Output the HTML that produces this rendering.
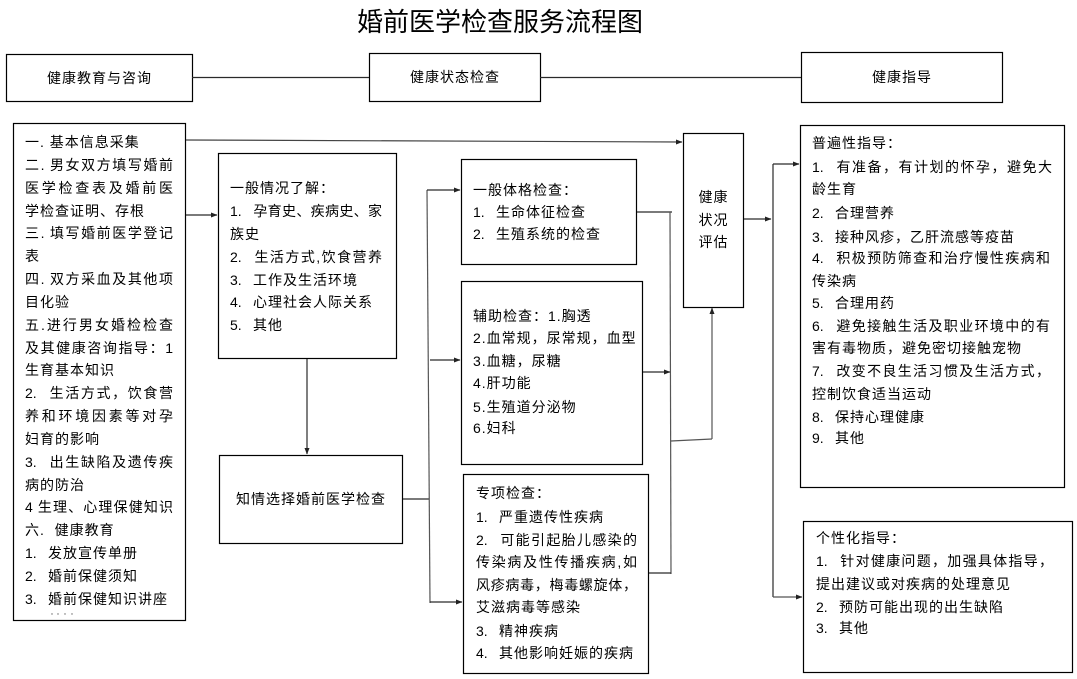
<!DOCTYPE html>
<html>
<head>
<meta charset="utf-8">
<style>
html,body{margin:0;padding:0}
body{width:1077px;height:679px;position:relative;background:#fff;overflow:hidden;font-family:"Liberation Sans","Noto Sans CJK SC",sans-serif;font-size:14px;color:#000}
svg{position:absolute;left:0;top:0}
.t{position:absolute;height:22px;line-height:22px;white-space:nowrap;letter-spacing:1px}
.j{text-align:justify;text-align-last:justify;letter-spacing:0;white-space:normal;overflow:hidden}
.n{display:inline-block;width:23px;letter-spacing:0}
.c{text-align:center}
.title{position:absolute;left:300px;width:400px;top:6px;height:32px;line-height:32px;font-size:26px;text-align:center;letter-spacing:0}
</style>
</head>
<body>
<svg width="1077" height="679" viewBox="0 0 1077 679">
<defs>
<marker id="a" markerWidth="7" markerHeight="6" refX="6" refY="3" orient="auto" markerUnits="userSpaceOnUse">
<path d="M0,0.5 L6.5,3 L0,5.5 z" fill="#222"/>
</marker>
</defs>
<g fill="none" stroke="#000" stroke-width="1.2">
<rect x="6.5" y="54.5" width="186" height="47"/>
<rect x="369.5" y="53.5" width="171" height="48"/>
<rect x="801.5" y="52.5" width="201" height="50"/>
<rect x="13.5" y="123.5" width="172" height="497"/>
<rect x="218.5" y="153.5" width="178" height="205"/>
<rect x="219.5" y="455.5" width="183" height="88"/>
<rect x="461.5" y="159.5" width="175" height="105"/>
<rect x="461.5" y="281.5" width="181" height="183"/>
<rect x="463.5" y="474.5" width="185" height="199"/>
<rect x="683.5" y="133.5" width="60" height="174"/>
<rect x="800.5" y="125.5" width="264" height="362"/>
<rect x="803.5" y="521.5" width="269" height="151"/>
</g>
<g fill="none" stroke="#2a2a2a" stroke-width="1.2">
<line x1="192" y1="77.5" x2="369" y2="77.5"/>
<line x1="540" y1="77.5" x2="801" y2="77.5"/>
<line x1="186" y1="140" x2="682" y2="142" marker-end="url(#a)" stroke="#444"/>
<line x1="186" y1="215" x2="217" y2="215" marker-end="url(#a)"/>
<line x1="307" y1="359" x2="307" y2="454" marker-end="url(#a)"/>
<line x1="403" y1="499" x2="429" y2="499"/>
<line x1="427" y1="190" x2="430" y2="603" stroke="#555"/>
<line x1="427" y1="190" x2="460" y2="190" marker-end="url(#a)"/>
<line x1="430" y1="360" x2="460" y2="360" marker-end="url(#a)"/>
<line x1="430" y1="602" x2="462" y2="602" marker-end="url(#a)"/>
<line x1="637" y1="212" x2="672" y2="212"/>
<line x1="670" y1="212" x2="671" y2="574" stroke="#555"/>
<line x1="643" y1="372" x2="670" y2="372" marker-end="url(#a)"/>
<line x1="649" y1="573" x2="671" y2="573"/>
<line x1="671" y1="441" x2="712" y2="439" stroke="#555"/>
<line x1="712" y1="439" x2="712" y2="308" marker-end="url(#a)" stroke="#555"/>
<line x1="744" y1="219" x2="771" y2="219" marker-end="url(#a)"/>
<line x1="773" y1="164" x2="773" y2="597"/>
<line x1="773" y1="164" x2="799" y2="164" marker-end="url(#a)"/>
<line x1="773" y1="597" x2="802" y2="597" marker-end="url(#a)" stroke="#555"/>
</g>
<g fill="#666">
<circle cx="52" cy="614" r="0.7"/><circle cx="58" cy="614" r="0.7"/><circle cx="65" cy="614" r="0.7"/><circle cx="72" cy="614" r="0.7"/>
</g>
</svg>

<div class="title">婚前医学检查服务流程图</div>

<div class="t c" style="left:6px;width:187px;top:67px">健康教育与咨询</div>
<div class="t c" style="left:369px;width:172px;top:66px">健康状态检查</div>
<div class="t c" style="left:801px;width:202px;top:66px">健康指导</div>

<!-- left box -->
<div class="t" style="left:25px;top:131px">一. 基本信息采集</div>
<div class="t j" style="left:25px;width:148px;top:154px">二. 男女双方填写婚前</div>
<div class="t j" style="left:25px;width:148px;top:177px">医学检查表及婚前医</div>
<div class="t" style="left:25px;top:200px">学检查证明、存根</div>
<div class="t j" style="left:25px;width:148px;top:222px">三. 填写婚前医学登记</div>
<div class="t" style="left:25px;top:245px">表</div>
<div class="t j" style="left:25px;width:148px;top:268px">四. 双方采血及其他项</div>
<div class="t" style="left:25px;top:291px">目化验</div>
<div class="t j" style="left:25px;width:148px;top:314px">五.进行男女婚检检查</div>
<div class="t j" style="left:25px;width:148px;top:337px">及其健康咨询指导：1</div>
<div class="t" style="left:25px;top:359px">生育基本知识</div>
<div class="t j" style="left:25px;width:148px;top:382px"><span class="n">2.</span>生活方式，饮食营</div>
<div class="t j" style="left:25px;width:148px;top:405px">养和环境因素等对孕</div>
<div class="t" style="left:25px;top:428px">妇育的影响</div>
<div class="t j" style="left:25px;width:148px;top:451px"><span class="n">3.</span>出生缺陷及遗传疾</div>
<div class="t" style="left:25px;top:474px">病的防治</div>
<div class="t j" style="left:25px;width:148px;top:496px">4 生理、心理保健知识</div>
<div class="t" style="left:25px;top:519px">六.&nbsp;&nbsp;健康教育</div>
<div class="t" style="left:25px;top:542px"><span class="n">1.</span>发放宣传单册</div>
<div class="t" style="left:25px;top:565px"><span class="n">2.</span>婚前保健须知</div>
<div class="t" style="left:25px;top:588px"><span class="n">3.</span>婚前保健知识讲座</div>

<!-- 一般情况了解 -->
<div class="t" style="left:230px;top:177px">一般情况了解：</div>
<div class="t j" style="left:230px;width:152px;top:200px"><span class="n">1.</span>孕育史、疾病史、家</div>
<div class="t" style="left:230px;top:223px">族史</div>
<div class="t j" style="left:230px;width:152px;top:246px"><span class="n">2.</span>生活方式,饮食营养</div>
<div class="t" style="left:230px;top:269px"><span class="n">3.</span>工作及生活环境</div>
<div class="t" style="left:230px;top:291px"><span class="n">4.</span>心理社会人际关系</div>
<div class="t" style="left:230px;top:314px"><span class="n">5.</span>其他</div>

<!-- 知情选择 -->
<div class="t c" style="left:219px;width:184px;top:488px">知情选择婚前医学检查</div>

<!-- 一般体格检查 -->
<div class="t" style="left:473px;top:179px">一般体格检查：</div>
<div class="t" style="left:473px;top:201px"><span class="n">1.</span>生命体征检查</div>
<div class="t" style="left:473px;top:223px"><span class="n">2.</span>生殖系统的检查</div>

<!-- 辅助检查 -->
<div class="t" style="left:473px;top:305px">辅助检查：1.胸透</div>
<div class="t" style="left:473px;top:327px">2.血常规，尿常规，血型</div>
<div class="t" style="left:473px;top:350px">3.血糖，尿糖</div>
<div class="t" style="left:473px;top:372px">4.肝功能</div>
<div class="t" style="left:473px;top:396px">5.生殖道分泌物</div>
<div class="t" style="left:473px;top:417px">6.妇科</div>

<!-- 专项检查 -->
<div class="t" style="left:476px;top:482px">专项检查：</div>
<div class="t" style="left:476px;top:506px"><span class="n">1.</span>严重遗传性疾病</div>
<div class="t j" style="left:476px;width:161px;top:529px"><span class="n">2.</span>可能引起胎儿感染的</div>
<div class="t j" style="left:476px;width:161px;top:551px">传染病及性传播疾病,如</div>
<div class="t j" style="left:476px;width:161px;top:574px">风疹病毒，梅毒螺旋体，</div>
<div class="t" style="left:476px;top:596px">艾滋病毒等感染</div>
<div class="t" style="left:476px;top:620px"><span class="n">3.</span>精神疾病</div>
<div class="t" style="left:476px;top:642px"><span class="n">4.</span>其他影响妊娠的疾病</div>

<!-- 健康状况评估 -->
<div class="t c" style="left:683px;width:61px;top:186px">健康</div>
<div class="t c" style="left:683px;width:61px;top:209px">状况</div>
<div class="t c" style="left:683px;width:61px;top:231px">评估</div>

<!-- 普遍性指导 -->
<div class="t" style="left:812px;top:132px">普遍性指导：</div>
<div class="t j" style="left:812px;width:240px;top:156px"><span class="n">1.</span>有准备，有计划的怀孕，避免大</div>
<div class="t" style="left:812px;top:178px">龄生育</div>
<div class="t" style="left:812px;top:202px"><span class="n">2.</span>合理营养</div>
<div class="t" style="left:812px;top:226px"><span class="n">3.</span>接种风疹，乙肝流感等疫苗</div>
<div class="t j" style="left:812px;width:238px;top:247px"><span class="n">4.</span>积极预防筛查和治疗慢性疾病和</div>
<div class="t" style="left:812px;top:270px">传染病</div>
<div class="t" style="left:812px;top:292px"><span class="n">5.</span>合理用药</div>
<div class="t j" style="left:812px;width:238px;top:315px"><span class="n">6.</span>避免接触生活及职业环境中的有</div>
<div class="t" style="left:812px;top:337px">害有毒物质，避免密切接触宠物</div>
<div class="t j" style="left:812px;width:238px;top:360px"><span class="n">7.</span>改变不良生活习惯及生活方式，</div>
<div class="t" style="left:812px;top:383px">控制饮食适当运动</div>
<div class="t" style="left:812px;top:406px"><span class="n">8.</span>保持心理健康</div>
<div class="t" style="left:812px;top:427px"><span class="n">9.</span>其他</div>

<!-- 个性化指导 -->
<div class="t" style="left:816px;top:527px">个性化指导：</div>
<div class="t j" style="left:816px;width:237px;top:550px"><span class="n">1.</span>针对健康问题，加强具体指导，</div>
<div class="t" style="left:816px;top:573px">提出建议或对疾病的处理意见</div>
<div class="t" style="left:816px;top:596px"><span class="n">2.</span>预防可能出现的出生缺陷</div>
<div class="t" style="left:816px;top:617px"><span class="n">3.</span>其他</div>

</body>
</html>
